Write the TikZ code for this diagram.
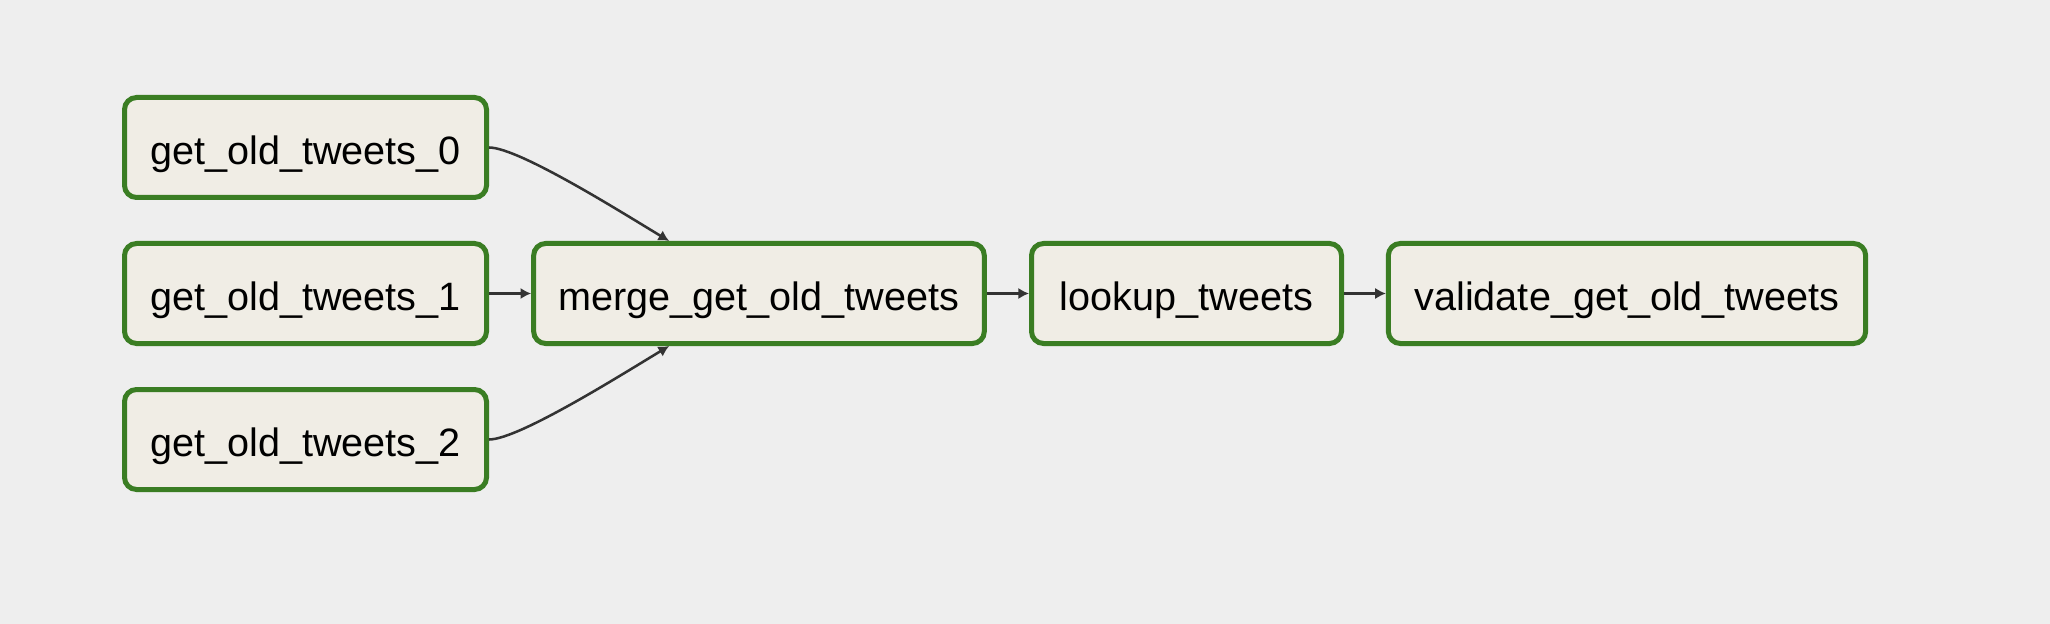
\documentclass[tikz,border=0pt]{standalone}
\usepackage{fontspec}
\setmainfont{Liberation Sans}
\usetikzlibrary{arrows.meta}
\definecolor{taskgreen}{RGB}{58,125,35}
\definecolor{taskfill}{RGB}{240,237,229}
\definecolor{canvas}{RGB}{238,238,238}
\definecolor{edgegray}{RGB}{51,51,51}

\begin{document}
\begin{tikzpicture}[x=0.75pt,y=0.75pt,yscale=-1,xscale=1,
  task/.style={draw=taskgreen, fill=taskfill, line width=3.75pt, rounded corners=9pt, minimum height=75pt, inner sep=0pt, text height=28pt, text depth=3pt, font=\fontsize{29.7}{35}\selectfont},
  edge/.style={draw=edgegray, line width=1.9pt, -{Latex[length=8pt,width=8.5pt]}}]

% Background
\fill[canvas] (0,0) rectangle (2050,624);
\useasboundingbox (0,0) rectangle (2050,624);

% Task Nodes
\draw (305.5,147.5) node [task, minimum width=271.5pt] (get0) {get\_old\_tweets\_0};
\draw (305.5,293.5) node [task, minimum width=271.5pt] (get1) {get\_old\_tweets\_1};
\draw (305.5,439.5) node [task, minimum width=271.5pt] (get2) {get\_old\_tweets\_2};
\draw (759,293.5) node [task, minimum width=338pt] (merge) {merge\_get\_old\_tweets};
\draw (1186.5,293.5) node [task, minimum width=232.5pt] (lookup) {lookup\_tweets};
\draw (1627,293.5) node [task, minimum width=358pt] (validate) {validate\_get\_old\_tweets};

% Edge ends on merge
\coordinate (mtop) at ([xshift=103.5pt]merge.north west);
\coordinate (mbot) at ([xshift=103.5pt]merge.south west);

% Edges
\draw [edge] (get0.east) .. controls +(30,0) and +(-45,-27) .. (mtop);
\draw [edge] (get1) -- (merge);
\draw [edge] (get2.east) .. controls +(30,0) and +(-45,27) .. (mbot);
\draw [edge] (merge) -- (lookup);
\draw [edge] (lookup) -- (validate);

\end{tikzpicture}
\end{document}
